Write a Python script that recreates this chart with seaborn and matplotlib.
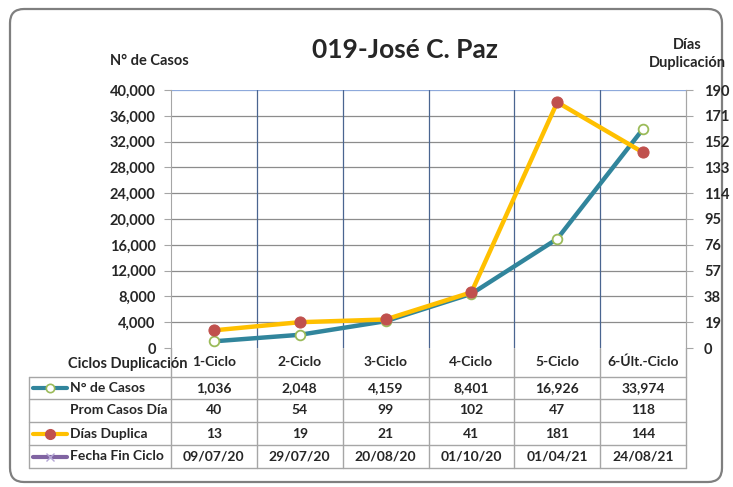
import matplotlib
matplotlib.use("Agg")
import matplotlib.pyplot as plt
import seaborn as sns
import pandas as pd
import numpy as np
from matplotlib.patches import FancyBboxPatch
from matplotlib.lines import Line2D
from matplotlib.ticker import FuncFormatter

# data
ciclos = ['1-Ciclo', '2-Ciclo', '3-Ciclo', '4-Ciclo', '5-Ciclo', '6-Últ.-Ciclo']
casos = [1036, 2048, 4159, 8401, 16926, 33974]
prom_casos = [40, 54, 99, 102, 47, 118]
dias_duplica = [13, 19, 21, 41, 181, 144]
fechas = ['09/07/20', '29/07/20', '20/08/20', '01/10/20', '01/04/21', '24/08/21']

left_ticks = list(range(0, 40001, 4000))
right_ticks = list(range(0, 191, 19))

TEAL = '#31859C'
YELLOW = '#FFC000'
RED = '#C0504D'
GREEN = '#9BBB59'
PURPLE = '#8064A2'
GRID_BLUE = '#4A6590'
GRAY = '#A6A6A6'

sns.set_style("white")
plt.rcParams['font.family'] = ['Lato', 'DejaVu Sans']
plt.rcParams['font.weight'] = 'bold'

W, H = 733, 487
fig = plt.figure(figsize=(W / 100, H / 100), dpi=100)

# background axes in pixel coordinates for the frame and the data table
bg = fig.add_axes([0, 0, 1, 1])
bg.set_xlim(0, W)
bg.set_ylim(H, 0)
bg.axis('off')
bg.add_patch(FancyBboxPatch((10, 9), 712, 473, boxstyle="round,pad=0,rounding_size=14",
                            fc='white', ec='#7F7F7F', lw=1.6))

# plot area
x0, x1, y0, y1 = 171, 686, 90, 348
ax = fig.add_axes([x0 / W, 1 - y1 / H, (x1 - x0) / W, (y1 - y0) / H])
df = pd.DataFrame({'pos': np.arange(len(ciclos)), 'casos': casos, 'dias': dias_duplica})

sns.lineplot(data=df, x='pos', y='casos', ax=ax, color=TEAL, lw=3.2, marker='o',
             markersize=7, markerfacecolor='white', markeredgecolor=GREEN,
             markeredgewidth=1.3, zorder=3)
ax.set_xlim(-0.5, len(ciclos) - 0.5)
ax.set_ylim(0, 40000)
ax.set_yticks(left_ticks)
ax.yaxis.set_major_formatter(FuncFormatter(lambda v, p: f"{int(v):,}"))
ax.set_xticks([])
ax.set_xlabel('')
ax.set_ylabel('')
for v in left_ticks[1:]:
    ax.axhline(v, color='#8C8C8C' if v < 40000 else '#8EA9DB', lw=0.9, zorder=1)
for b in np.arange(0.5, len(ciclos) - 0.5, 1):
    ax.axvline(b, color=GRID_BLUE, lw=0.9, zorder=1)
for s in ['top', 'bottom']:
    ax.spines[s].set_visible(False)
ax.spines['left'].set_color(GRAY)
ax.spines['right'].set_color(GRAY)
ax.tick_params(axis='y', direction='out', length=5, color=GRAY, labelsize=10.5,
               pad=6, left=True)

ax2 = ax.twinx()
sns.lineplot(data=df, x='pos', y='dias', ax=ax2, color=YELLOW, lw=3.2, marker='o',
             markersize=8, markerfacecolor=RED, markeredgecolor=RED, zorder=4)
ax2.set_ylim(0, 190)
ax2.set_yticks(right_ticks)
ax2.set_ylabel('')
for s in ['top', 'bottom', 'left']:
    ax2.spines[s].set_visible(False)
ax2.spines['right'].set_color(GRAY)
ax2.tick_params(axis='y', direction='out', length=5, color=GRAY, labelsize=10.5,
                pad=8, right=True)
for lab in ax.get_yticklabels() + ax2.get_yticklabels():
    lab.set_fontweight('bold')

# titles
bg.text(405, 50, '019-José C. Paz', ha='center', va='center', fontsize=19, fontweight='bold')
bg.text(110, 61, 'N° de Casos', ha='left', va='center', fontsize=10.5, fontweight='bold')
bg.text(687, 54, 'Días\nDuplicación', ha='center', va='center', fontsize=10.5,
        fontweight='bold', linespacing=1.35)

# data table
col_w = (x1 - x0) / len(ciclos)
edges = [x0 + i * col_w for i in range(len(ciclos) + 1)]
row_lines = [377, 399, 422, 445, 468]
tl = 29
for yy in row_lines:
    bg.plot([tl, x1], [yy, yy], color=GRAY, lw=1)
bg.plot([tl, tl], [row_lines[0], row_lines[-1]], color=GRAY, lw=1)
for i, e in enumerate(edges):
    bg.plot([e, e], [y1, row_lines[-1]], color=GRAY, lw=1)

bg.text(188, 364, 'Ciclos Duplicación', ha='right', va='center', fontsize=10.5, fontweight='bold')
for i, c in enumerate(ciclos):
    bg.text((edges[i] + edges[i + 1]) / 2, 362, c, ha='center', va='center',
            fontsize=10, fontweight='bold')

rows = [
    ('N° de Casos', [f"{v:,}" for v in casos]),
    ('Prom Casos Día', [str(v) for v in prom_casos]),
    ('Días Duplica', [str(v) for v in dias_duplica]),
    ('Fecha Fin Ciclo', fechas),
]
for r, (name, vals) in enumerate(rows):
    yc = (row_lines[r] + row_lines[r + 1]) / 2
    bg.text(70, yc, name, ha='left', va='center', fontsize=10, fontweight='bold')
    for i, v in enumerate(vals):
        bg.text((edges[i] + edges[i + 1]) / 2, yc, v, ha='center', va='center',
                fontsize=10, fontweight='bold')

# legend keys inside the table
keys = [
    (TEAL, dict(marker='o', markersize=6, markerfacecolor='white', markeredgecolor=GREEN, markeredgewidth=1.2)),
    None,
    (YELLOW, dict(marker='o', markersize=7, markerfacecolor=RED, markeredgecolor=RED)),
    (PURPLE, dict(marker='x', markersize=6, markeredgecolor='#B4A7D6', markeredgewidth=1.0)),
]
for r, k in enumerate(keys):
    if k is None:
        continue
    yc = (row_lines[r] + row_lines[r + 1]) / 2
    bg.add_line(Line2D([33, 67], [yc, yc], color=k[0], lw=3))
    bg.add_line(Line2D([50], [yc], color=k[0], lw=0, **k[1]))

fig.savefig('out.png', dpi=100)
